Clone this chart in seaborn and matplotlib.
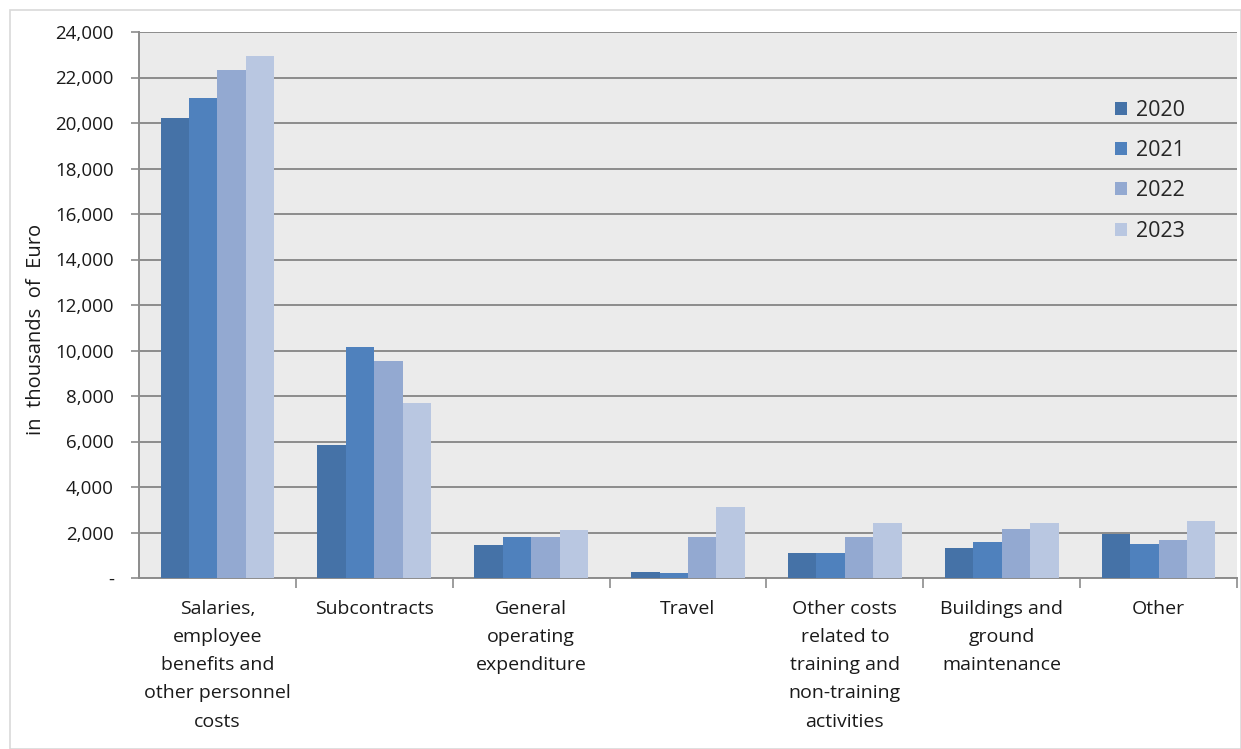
import matplotlib
matplotlib.use("Agg")
import matplotlib.pyplot as plt
import seaborn as sns
import pandas as pd
from matplotlib.patches import Rectangle
from matplotlib.ticker import FuncFormatter, FixedLocator

categories = [
    "Salaries,\nemployee\nbenefits and\nother personnel\ncosts",
    "Subcontracts",
    "General\noperating\nexpenditure",
    "Travel",
    "Other costs\nrelated to\ntraining and\nnon-training\nactivities",
    "Buildings and\nground\nmaintenance",
    "Other",
]
years = ["2020", "2021", "2022", "2023"]
v2020 = [20200, 5850, 1460, 270, 1110, 1330, 1950]
v2021 = [21100, 10140, 1810, 230, 1110, 1570, 1490]
v2022 = [22350, 9560, 1810, 1790, 1790, 2140, 1670]
v2023 = [22930, 7680, 2110, 3140, 2400, 2400, 2500]
colors = ["#4572A7", "#4F81BD", "#93A9D1", "#B9C7E1"]

rows = []
for yr, vals in zip(years, [v2020, v2021, v2022, v2023]):
    for c, v in zip(categories, vals):
        rows.append({"category": c, "year": yr, "value": v})
df = pd.DataFrame(rows)

sns.set_theme(style="white")
plt.rcParams["font.family"] = ["Open Sans", "DejaVu Sans"]

fig = plt.figure(figsize=(12.41, 7.49), dpi=100)
ax = fig.add_axes([139/1241, 1 - 578/749, (1237 - 139)/1241, (578 - 32)/749])
ax.set_facecolor("#EBEBEB")

sns.barplot(data=df, x="category", y="value", hue="year", palette=colors,
            width=0.725, saturation=1, ax=ax, legend=False, errorbar=None,
            edgecolor="none", zorder=3)

ax.set_ylim(0, 24000)
ax.set_xlim(-0.5, len(categories) - 0.5)
ax.yaxis.set_major_locator(FixedLocator(list(range(0, 24001, 2000))))
ax.yaxis.set_major_formatter(FuncFormatter(lambda v, p: "-" if v == 0 else f"{int(v):,}"))
ax.grid(axis="y", color="#8C8C8C", linewidth=1.4, zorder=1)
ax.set_axisbelow(True)

for s in ["top", "right"]:
    ax.spines[s].set_visible(False)
for s in ["left", "bottom"]:
    ax.spines[s].set_color("#8C8C8C")
    ax.spines[s].set_linewidth(1.4)

ax.tick_params(axis="y", which="major", length=6, width=1.2, color="#8C8C8C",
               labelsize=13.5, labelcolor="#1a1a1a", left=True, pad=12)
ax.set_xticks(range(len(categories)))
ax.set_xticklabels(categories, fontsize=14, color="#1a1a1a", linespacing=1.72,
                   va="top")
ax.tick_params(axis="x", which="major", length=0, pad=16)
ax.set_xticks([i + 0.5 for i in range(len(categories))], minor=True)
ax.tick_params(axis="x", which="minor", length=7, width=1.2, color="#8C8C8C",
               bottom=True)

ax.set_xlabel("")
ax.set_ylabel("in  thousands  of  Euro", fontsize=14.5, color="#1a1a1a")
ax.yaxis.set_label_coords(-0.085, 0.455)

handles = [Rectangle((0, 0), 1, 1, facecolor=c, edgecolor="none") for c in colors]
leg = ax.legend(handles, years, loc="upper left", bbox_to_anchor=(0.889, 0.876),
                frameon=False, fontsize=15.5, handlelength=0.55, handleheight=0.55,
                labelspacing=0.9, handletextpad=0.4, borderpad=0, borderaxespad=0)

fig.patches.append(Rectangle((10/1241, 0), 1 - 10/1241, 1 - 10/749,
                             transform=fig.transFigure, fill=False,
                             edgecolor="#D9D9D9", linewidth=1.2))

fig.savefig("out.png", dpi=100, facecolor="white")
